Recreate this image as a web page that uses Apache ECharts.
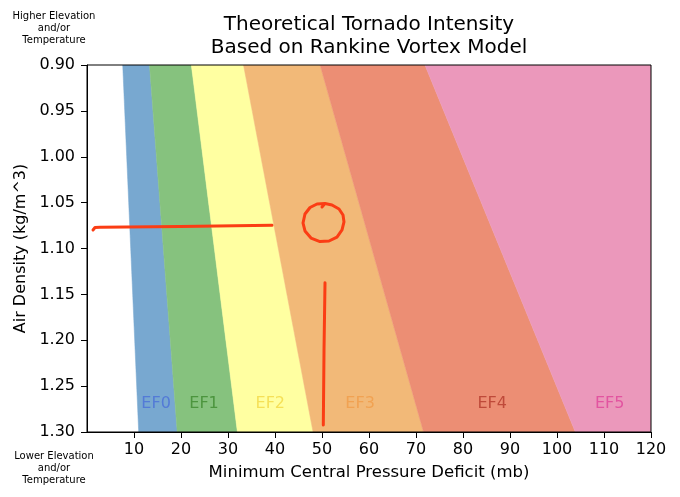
<!DOCTYPE html>
<html>
<head>
<meta charset="utf-8">
<script src="https://cdn.jsdelivr.net/npm/echarts@6/dist/echarts.min.js"></script>
<style>html,body{margin:0;padding:0;background:#fff;}#c{width:680px;height:497px;}</style>
</head>
<body>
<div id="c"></div>
<script>
// ---- data ----
const bandNames = ['EF0', 'EF1', 'EF2', 'EF3', 'EF4', 'EF5'];
const densityTop = 0.90;
const densityBottom = 1.30;
// lower boundary of each band (mb) at the top (0.90) and bottom (1.30) of the plot
const lowerAtTop =    [7.6, 13.3, 22.2, 33.3, 49.6, 71.9];
const lowerAtBottom = [11.0, 19.2, 32.0, 48.1, 71.6, 103.9];
// upper boundary (next band's lower boundary; last one extends to axis end)
const upperAtTop =    [13.3, 22.2, 33.3, 49.6, 71.9, 120];
const upperAtBottom = [19.2, 32.0, 48.1, 71.6, 103.9, 120];
const bandColors = ['#78a8d0', '#86c27e', '#ffffa1', '#f2b978', '#ec8e74', '#eb98bb'];
const labelX = [14.7, 24.9, 39.0, 58.1, 86.2, 111.2];
const labelY = 1.269;
const labelColors = ['#4a6fd8', '#3d8a2e', '#f3d845', '#f09c48', '#b43a2c', '#e0449a'];
const xTicks = [10, 20, 30, 40, 50, 60, 70, 80, 90, 100, 110, 120];
// hand-drawn annotation strokes [pressure deficit, density]
const strokeHorizontal = [[1.28, 1.0798], [1.70, 1.0771], [2.77, 1.0768], [19.79, 1.0760], [39.36, 1.0747]];
const strokeCircle = [[50.0, 1.0548], [50.64, 1.0510], [52.13, 1.0526], [53.62, 1.0569], [54.47, 1.0635],
  [54.68, 1.0711], [54.26, 1.0798], [53.19, 1.0875], [51.49, 1.0918], [49.57, 1.0924], [47.66, 1.0886],
  [46.38, 1.0809], [45.96, 1.0722], [46.38, 1.0624], [47.45, 1.0553], [48.94, 1.0515], [50.64, 1.0510]];
const strokeVertical = [[50.64, 1.1373], [50.43, 1.2106], [50.28, 1.2924]];

const FONT = 'DejaVu Sans';
const bandData = bandNames.map((n, i) => [lowerAtTop[i], lowerAtBottom[i], upperAtTop[i], upperAtBottom[i], i]);
const strokeStyle = {color: '#fb3d14', width: 3, cap: 'round', join: 'round'};
function stroke(data) {
  return {type: 'line', data: data, showSymbol: false, symbol: 'none', smooth: false,
    lineStyle: strokeStyle, z: 10, silent: true, animation: false};
}

const chart = echarts.init(document.getElementById('c'), null, {renderer: 'canvas'});
chart.setOption({
  animation: false,
  textStyle: {fontFamily: FONT},
  grid: {left: 87, right: 29, top: 65, bottom: 65, show: true, borderColor: '#000', borderWidth: 1, backgroundColor: 'transparent', z: 20},
  xAxis: {
    type: 'value', min: 0, max: 120, interval: 10,
    name: 'Minimum Central Pressure Deficit (mb)', nameLocation: 'middle', nameGap: 32,
    nameTextStyle: {fontSize: 16.5, color: '#000', fontFamily: FONT},
    axisLine: {show: true, onZero: false, lineStyle: {color: '#000', width: 1}},
    axisTick: {show: true, inside: false, length: 6, lineStyle: {color: '#000'}, customValues: xTicks},
    axisLabel: {fontSize: 16, color: '#000', fontFamily: FONT, margin: 10, customValues: xTicks,
      formatter: v => (xTicks.indexOf(v) >= 0 ? String(v) : '')},
    splitLine: {show: false}
  },
  yAxis: {
    type: 'value', min: densityTop, max: densityBottom, interval: 0.05, inverse: true,
    name: 'Air Density (kg/m^3)', nameLocation: 'middle', nameGap: 58,
    nameTextStyle: {fontSize: 16, color: '#000', fontFamily: FONT},
    axisLine: {show: true, onZero: false, lineStyle: {color: '#000', width: 1}},
    axisTick: {show: true, inside: false, length: 6, lineStyle: {color: '#000'}},
    axisLabel: {fontSize: 16, color: '#000', fontFamily: FONT, margin: 12, formatter: v => v.toFixed(2)},
    splitLine: {show: false}
  },
  graphic: [
    {type: 'text', x: 369, y: 36, style: {text: 'Theoretical Tornado Intensity\nBased on Rankine Vortex Model',
      font: '20px "DejaVu Sans"', fill: '#000', textAlign: 'center', textVerticalAlign: 'middle', lineHeight: 23}},
    {type: 'text', x: 54, y: 28, style: {text: 'Higher Elevation\nand/or\nTemperature',
      font: '10px "DejaVu Sans"', fill: '#000', textAlign: 'center', textVerticalAlign: 'middle', lineHeight: 12}},
    {type: 'text', x: 54, y: 468, style: {text: 'Lower Elevation\nand/or\nTemperature',
      font: '10px "DejaVu Sans"', fill: '#000', textAlign: 'center', textVerticalAlign: 'middle', lineHeight: 12}}
  ],
  series: [
    {
      type: 'custom', silent: true, clip: true, z: 1,
      data: bandData,
      encode: {x: [0, 1, 2, 3]},
      renderItem: function (params, api) {
        const a = api.coord([api.value(0), densityTop]);
        const b = api.coord([api.value(1), densityBottom]);
        const c = api.coord([api.value(3), densityBottom]);
        const d = api.coord([api.value(2), densityTop]);
        const i = api.value(4);
        return {type: 'polygon', shape: {points: [a, b, c, d]},
          style: {fill: bandColors[i], stroke: bandColors[i], lineWidth: 0.5}};
      }
    },
    {
      type: 'scatter', silent: true, symbolSize: 0, z: 5,
      data: bandNames.map((n, i) => ({value: [labelX[i], labelY], name: n,
        label: {show: true, position: 'inside', formatter: n, color: labelColors[i], fontSize: 16, fontFamily: FONT}}))
    },
    stroke(strokeHorizontal),
    stroke(strokeCircle),
    stroke(strokeVertical)
  ]
});
</script>
</body>
</html>
